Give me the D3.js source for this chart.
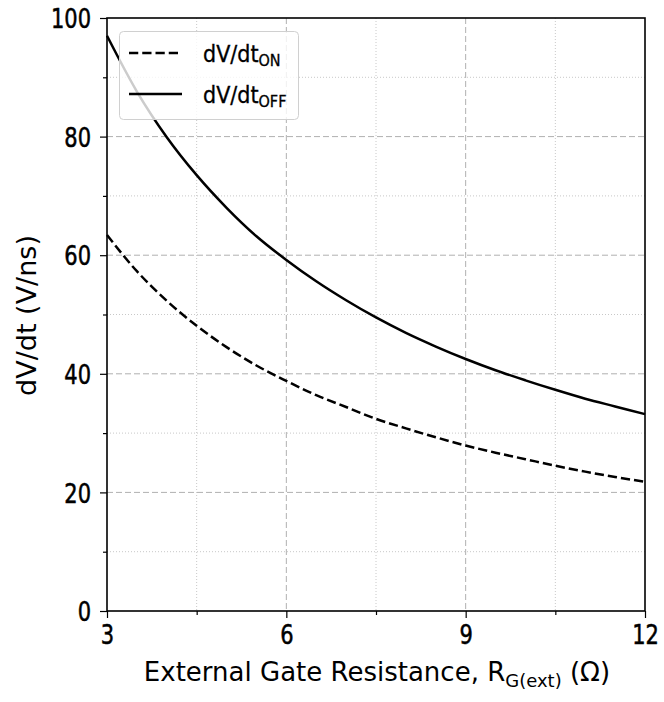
<!DOCTYPE html>
<html>
<head>
<meta charset="utf-8">
<script src="https://cdn.jsdelivr.net/npm/d3@7"></script>
<style>
  body { margin: 0; background: #fff; }
  .tick text { font-family: "DejaVu Sans Condensed", "DejaVu Sans", sans-serif; font-stretch: condensed; font-size: 27px; fill: #000; stroke: #000; stroke-width: 0.5px; }
  .lbl { font-family: "DejaVu Sans", sans-serif; font-size: 26px; fill: #000; }
  .leg { font-family: "DejaVu Sans Condensed", "DejaVu Sans", sans-serif; font-stretch: condensed; font-size: 23px; fill: #000; stroke: #000; stroke-width: 0.3px; }
</style>
</head>
<body>
<svg id="chart" width="664" height="702"></svg>
<script>
// gate resistance (ohm)
const rg = [3, 3.5, 4, 4.5, 5, 5.5, 6, 6.5, 7, 7.5, 8, 8.5, 9, 9.5, 10, 10.5, 11, 11.5, 12];
// dV/dt (V/ns)
const dvdtOn  = [63.4, 57.3, 52.3, 48.1, 44.5, 41.4, 38.8, 36.4, 34.4, 32.4, 30.8, 29.3, 27.9, 26.7, 25.6, 24.5, 23.5, 22.6, 21.8];
const dvdtOff = [97.0, 87.6, 79.9, 73.5, 68.0, 63.2, 59.2, 55.6, 52.4, 49.5, 46.9, 44.6, 42.5, 40.6, 38.9, 37.3, 35.8, 34.5, 33.2];
const xTicks = [3, 6, 9, 12];
const xMinor = [4.5, 7.5, 10.5];
const yTicks = [0, 20, 40, 60, 80, 100];
const yMinor = [10, 30, 50, 70, 90];

const svg = d3.select("#chart");
const pl = 107, pr = 645, pt = 18, pb = 611;
const narrow = 0.865; // squeeze tick digits to look like a narrow face

const x = d3.scaleLinear().domain([3, 12]).range([pl, pr]);
const y = d3.scaleLinear().domain([0, 100]).range([pb, pt]);

// grid
const grid = svg.append("g");
grid.selectAll(".gxm").data(xMinor).enter().append("line")
  .attr("x1", d => x(d)).attr("x2", d => x(d)).attr("y1", pt).attr("y2", pb)
  .attr("stroke", "#c8c8c8").attr("stroke-width", 1).attr("stroke-dasharray", "1,2");
grid.selectAll(".gym").data(yMinor).enter().append("line")
  .attr("x1", pl).attr("x2", pr).attr("y1", d => y(d)).attr("y2", d => y(d))
  .attr("stroke", "#c8c8c8").attr("stroke-width", 1).attr("stroke-dasharray", "1,2");
grid.selectAll(".gx").data(xTicks.slice(1, -1)).enter().append("line")
  .attr("x1", d => x(d)).attr("x2", d => x(d)).attr("y1", pt).attr("y2", pb)
  .attr("stroke", "#b0b0b0").attr("stroke-width", 1).attr("stroke-dasharray", "6,3");
grid.selectAll(".gy").data(yTicks.slice(1, -1)).enter().append("line")
  .attr("x1", pl).attr("x2", pr).attr("y1", d => y(d)).attr("y2", d => y(d))
  .attr("stroke", "#b0b0b0").attr("stroke-width", 1).attr("stroke-dasharray", "6,3");

// curves
const line = d3.line().x(d => x(d[0])).y(d => y(d[1])).curve(d3.curveMonotoneX);
svg.append("path").datum(d3.zip(rg, dvdtOn)).attr("d", line)
  .attr("fill", "none").attr("stroke", "#000").attr("stroke-width", 2.5).attr("stroke-dasharray", "9.25,4");
svg.append("path").datum(d3.zip(rg, dvdtOff)).attr("d", line)
  .attr("fill", "none").attr("stroke", "#000").attr("stroke-width", 2.5);

// axes
const xAxis = svg.append("g").attr("transform", `translate(0,${pb})`)
  .call(d3.axisBottom(x).tickValues(xTicks).tickSize(7).tickPadding(5).tickFormat(d3.format("d")));
svg.append("g").attr("transform", `translate(0,${pb})`)
  .call(d3.axisBottom(x).tickValues(xMinor).tickSize(4).tickFormat(""));
const yAxis = svg.append("g").attr("transform", `translate(${pl},0)`)
  .call(d3.axisLeft(y).tickValues(yTicks).tickSize(7).tickPadding(9).tickFormat(d3.format("d")));
svg.append("g").attr("transform", `translate(${pl},0)`)
  .call(d3.axisLeft(y).tickValues(yMinor).tickSize(4).tickFormat(""));
svg.selectAll(".domain").remove();
svg.selectAll(".tick line").attr("stroke", "#000").attr("stroke-width", 1.2);
xAxis.selectAll(".tick text").attr("dy", "0.76em").attr("transform", `scale(${narrow},1)`);
yAxis.selectAll(".tick text").attr("dy", "0.36em")
  .attr("x", -16 / narrow).attr("transform", `scale(${narrow},1)`);

// frame
svg.append("rect").attr("x", pl).attr("y", pt).attr("width", pr - pl).attr("height", pb - pt)
  .attr("fill", "none").attr("stroke", "#000").attr("stroke-width", 1.6);

// axis labels
const xl = svg.append("text").attr("class", "lbl").attr("x", 377).attr("y", 681)
  .attr("text-anchor", "middle");
xl.append("tspan").text("External Gate Resistance, R");
xl.append("tspan").attr("font-size", "18px").attr("dy", 6).text("G(ext)");
xl.append("tspan").attr("dy", -6).text(" (Ω)");

svg.append("text").attr("class", "lbl").style("font-size", "27px")
  .attr("transform", `translate(36,${(pt + pb) / 2 + 1}) rotate(-90)`)
  .attr("text-anchor", "middle").text("dV/dt (V/ns)");

// legend
const leg = svg.append("g");
leg.append("rect").attr("x", 119.5).attr("y", 31.5).attr("width", 179).attr("height", 88).attr("rx", 4)
  .attr("fill", "#fff").attr("fill-opacity", 0.8).attr("stroke", "#d0d0d0").attr("stroke-width", 1);
const items = [
  { sub: "ON", dash: "9.25,4" },
  { sub: "OFF", dash: null }
];
items.forEach((it, i) => {
  const yy = 53 + i * 41;
  leg.append("line").attr("x1", 129).attr("x2", 182).attr("y1", yy).attr("y2", yy)
    .attr("stroke", "#000").attr("stroke-width", 2.5).attr("stroke-dasharray", it.dash);
  const t = leg.append("text").attr("class", "leg").attr("x", 203).attr("y", yy + 9);
  t.append("tspan").text("dV/dt");
  t.append("tspan").attr("font-size", "16px").attr("dy", 4).text(it.sub);
});
</script>
</body>
</html>
